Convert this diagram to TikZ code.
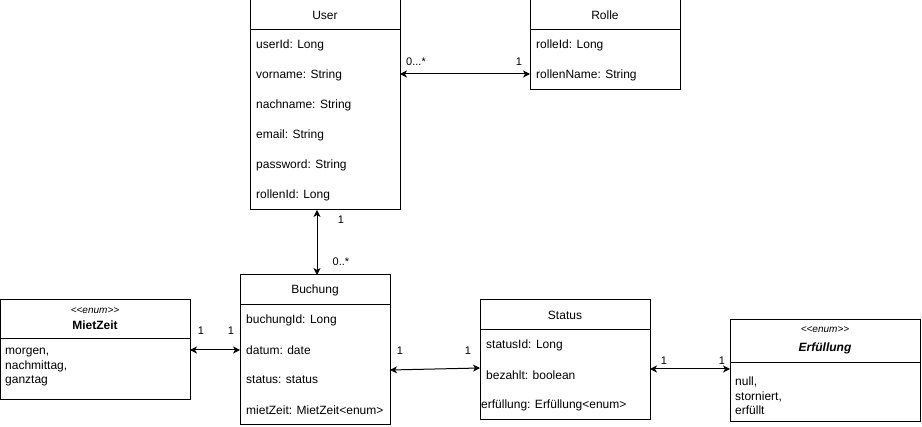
\documentclass[tikz,border=0pt]{standalone}
\usepackage{fontspec}
\setmainfont{Liberation Sans}
\usetikzlibrary{arrows.meta}
\begin{document}
\begin{tikzpicture}[x=1pt,y=-1pt,
  box/.style={draw, line width=1pt, inner sep=0pt, outer sep=0pt, anchor=north west},
  sep/.style={line width=1pt},
  attr/.style={inner sep=0pt, anchor=west, font=\fontsize{12}{14}\selectfont},
  title/.style={inner sep=0pt, font=\fontsize{12}{14}\selectfont},
  stereo/.style={inner sep=0pt, font=\fontsize{10}{12}\selectfont\itshape},
  items/.style={inner sep=0pt, anchor=north west, align=left, font=\fontsize{12}{14.5}\selectfont},
  mult/.style={inner sep=0pt, font=\fontsize{11}{13}\selectfont},
  assoc/.style={line width=1pt, {Stealth[length=7pt,width=7pt,inset=2pt]}-{Stealth[length=7pt,width=7pt,inset=2pt]}}
]
\useasboundingbox (0,0) rectangle (922,427);

% User
\node[box, minimum width=150pt, minimum height=210pt] (user) at (250,0) {};
\draw[sep] (250,30) -- (400,30);
\node[title] (userT) at (325,15) {User};
\node[attr] (u1) at (256,45) {userId: Long};
\node[attr] (u2) at (256,75) {vorname: String};
\node[attr] (u3) at (256,105) {nachname: String};
\node[attr] (u4) at (256,135) {email: String};
\node[attr] (u5) at (256,165) {password: String};
\node[attr] (u6) at (256,195) {rollenId: Long};

% Rolle
\node[box, minimum width=150pt, minimum height=90pt] (rolle) at (530,0) {};
\draw[sep] (530,30) -- (680,30);
\node[title] (rolleT) at (605,15) {Rolle};
\node[attr] (r1) at (536,45) {rolleId: Long};
\node[attr] (r2) at (536,75) {rollenName: String};

% Buchung
\node[box, minimum width=150pt, minimum height=150pt] (buchung) at (240,275) {};
\draw[sep] (240,305) -- (390,305);
\node[title] (buchungT) at (315,290) {Buchung};
\node[attr] (b1) at (246,320) {buchungId: Long};
\node[attr] (b2) at (246,350) {datum: date};
\node[attr] (b3) at (246,380) {status: status};
\node[attr] (b4) at (246,410) {mietZeit: MietZeit<enum>};

% Status
\node[box, minimum width=170pt, minimum height=120pt] (status) at (480,300) {};
\draw[sep] (480,330) -- (650,330);
\node[title] (statusT) at (565,315) {Status};
\node[attr] (s1) at (486,345) {statusId: Long};
\node[attr] (s2) at (486,375) {bezahlt: boolean};
\node[attr] (s3) at (481,405) {erfüllung: Erfüllung<enum>};

% MietZeit
\node[box, minimum width=190pt, minimum height=100pt] (mietzeit) at (0,300) {};
\draw[sep] (0,339) -- (190,339);
\node[stereo] (mzS) at (95,311) {<\kern0pt<enum>\kern0pt>};
\node[title, font=\fontsize{12}{14}\selectfont\bfseries] (mzT) at (95,325) {MietZeit};
\node[items] (mzI) at (5,348) {morgen,\\nachmittag,\\ganztag};

% Erfüllung
\node[box, minimum width=190pt, minimum height=102pt] (erf) at (730,320) {};
\draw[sep] (730,363) -- (920,363);
\node[stereo] (erfS) at (825,330) {<\kern0pt<enum>\kern0pt>};
\node[title, font=\fontsize{12}{14}\selectfont\bfseries\itshape] (erfT) at (825,348) {Erfüllung};
\node[items] (erfI) at (735,377) {null,\\storniert,\\erfüllt};

% Connectors
\draw[assoc] ([xshift=-8pt]user.south) -- ([xshift=2pt]buchung.north);
\node[mult] (m1) at (341,220) {1};
\node[mult] (m2) at (341,262) {0..*};

\draw[assoc] ([yshift=31pt]user.east) -- ([yshift=-29pt]rolle.west);
\node[mult] (m3) at (416,62) {0...*};
\node[mult] (m4) at (519,62) {1};

\draw[assoc] (mietzeit.east) -- (buchung.west |- mietzeit.east);
\node[mult] (m5) at (201,331) {1};
\node[mult] (m6) at (231,331) {1};

\draw[assoc] ([yshift=-20pt]buchung.east) -- ([yshift=-8pt]status.west);
\node[mult] (m7) at (400,351) {1};
\node[mult] (m8) at (468,351) {1};

\draw[assoc] ([yshift=-9pt]status.east) -- ([yshift=2pt]erf.west);
\node[mult] (m9) at (664,361) {1};
\node[mult] (m10) at (722,361) {1};
\end{tikzpicture}
\end{document}
